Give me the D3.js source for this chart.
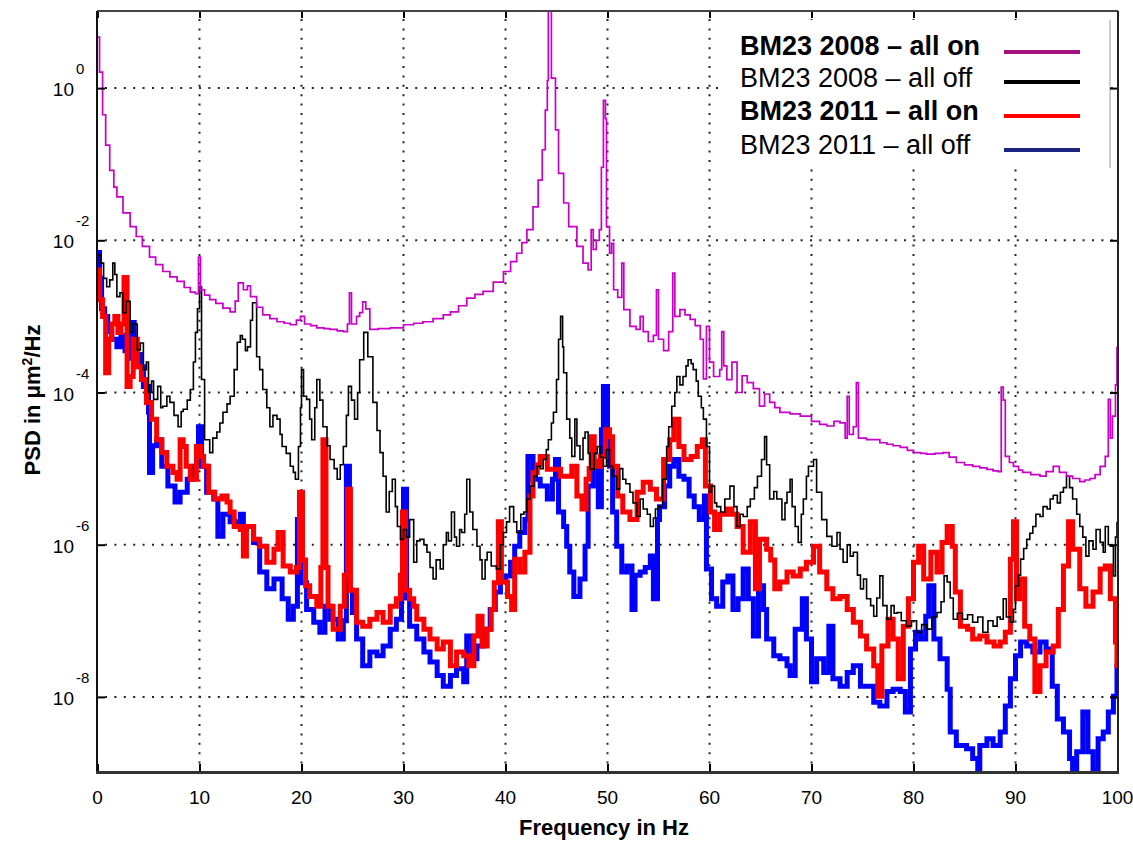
<!DOCTYPE html>
<html>
<head>
<meta charset="utf-8">
<script src="https://cdn.jsdelivr.net/npm/d3@7"></script>
<style>
    body { margin: 0; background: #fff; font-family: "Liberation Sans", Arial, sans-serif; }
    svg { display: block; }
</style>
</head>
<body>
<svg id="chart" width="1133" height="841"></svg>
<script>
// ---- data: [frequency in Hz, log10 of PSD in um^2/Hz] ----
const xTickValues = [0, 10, 20, 30, 40, 50, 60, 70, 80, 90, 100];
const yTickExponents = [0, -2, -4, -6, -8];
const legendLabels = ["BM23 2008 \u2013 all on", "BM23 2008 \u2013 all off", "BM23 2011 \u2013 all on", "BM23 2011 \u2013 all off"];

const on2008 = [[0,0.67],[0.2,0.21],[0.5,-0.35],[0.8,-0.75],[1.2,-1.08],[1.6,-1.3],[1.9,-1.43],[2.5,-1.64],[3.2,-1.82],[3.8,-1.95],[4.4,-2.08],[5.1,-2.22],[5.7,-2.32],[6.4,-2.41],[7.1,-2.48],[7.8,-2.54],[8.5,-2.62],[9.1,-2.68],[9.6,-2.7],[9.9,-2.22],[10.1,-2.65],[10.5,-2.72],[11.0,-2.78],[11.6,-2.83],[12.3,-2.89],[13.0,-2.94],[13.5,-2.8],[13.8,-2.56],[14.3,-2.65],[14.7,-2.6],[15.0,-2.74],[15.6,-2.88],[16.2,-2.98],[16.9,-3.03],[17.6,-3.07],[18.3,-3.09],[18.9,-3.11],[19.5,-3.05],[19.9,-3.0],[20.3,-3.1],[20.9,-3.12],[21.5,-3.15],[22.2,-3.16],[22.8,-3.17],[23.5,-3.19],[24.1,-3.2],[24.5,-3.1],[24.7,-2.69],[24.9,-3.1],[25.4,-3.0],[25.7,-2.95],[26.0,-2.81],[26.3,-2.9],[26.7,-3.17],[27.5,-3.16],[28.7,-3.15],[30.0,-3.11],[31.0,-3.09],[31.9,-3.07],[32.9,-3.03],[33.9,-2.98],[34.6,-2.94],[35.4,-2.86],[36.2,-2.76],[37.0,-2.71],[37.8,-2.67],[38.8,-2.55],[39.8,-2.41],[40.5,-2.28],[41.1,-2.17],[41.6,-2.03],[42.1,-1.86],[42.7,-1.56],[43.2,-1.21],[43.6,-0.81],[43.9,-0.29],[44.1,0.1],[44.2,1.3],[44.5,0.13],[44.9,-0.55],[45.2,-1.12],[45.7,-1.51],[46.2,-1.82],[47.0,-2.08],[47.6,-2.3],[48.1,-2.39],[48.4,-1.86],[48.6,-2.12],[48.9,-2.0],[49.2,-1.86],[49.4,-1.04],[49.6,-0.16],[49.8,-0.4],[49.9,-1.82],[50.2,-2.17],[50.4,-2.04],[50.6,-2.65],[51.0,-2.75],[51.4,-2.3],[51.6,-2.91],[52.2,-3.13],[52.8,-3.17],[53.2,-3.0],[53.5,-3.2],[54.0,-3.33],[54.5,-3.25],[54.8,-2.65],[55.0,-3.3],[55.5,-3.45],[56.0,-3.2],[56.4,-2.43],[56.6,-3.0],[57.1,-2.91],[57.6,-2.98],[58.1,-3.04],[58.6,-3.12],[59.1,-3.3],[59.4,-3.82],[59.7,-3.13],[60.0,-3.6],[60.4,-3.79],[61.0,-3.7],[61.2,-3.2],[61.4,-3.65],[61.7,-3.83],[62.2,-3.6],[62.7,-4.0],[63.2,-3.78],[63.7,-3.87],[64.3,-3.95],[64.9,-4.18],[65.4,-4.02],[65.9,-4.13],[66.4,-4.2],[66.9,-4.26],[67.9,-4.28],[68.9,-4.31],[70.0,-4.38],[70.8,-4.42],[71.5,-4.44],[72.2,-4.38],[72.8,-4.4],[73.3,-4.6],[73.5,-4.05],[73.7,-4.55],[74.1,-4.45],[74.4,-3.87],[74.6,-4.6],[75.4,-4.62],[76.0,-4.62],[76.7,-4.66],[77.4,-4.68],[78.0,-4.7],[78.7,-4.72],[79.4,-4.76],[80.0,-4.79],[80.7,-4.8],[81.3,-4.81],[82.1,-4.8],[82.9,-4.79],[83.5,-4.85],[84.2,-4.92],[85.0,-4.95],[85.8,-4.97],[86.5,-4.99],[87.2,-5.01],[87.8,-5.03],[88.3,-5.04],[88.6,-3.93],[88.8,-4.1],[89.0,-4.84],[89.4,-4.92],[89.8,-4.97],[90.3,-5.02],[90.7,-5.05],[91.5,-5.08],[92.4,-5.1],[93.0,-5.04],[93.7,-4.97],[94.3,-5.05],[95.0,-5.1],[95.6,-5.13],[96.3,-5.17],[96.8,-5.15],[97.3,-5.13],[97.8,-5.08],[98.3,-4.97],[98.8,-4.84],[99.1,-4.09],[99.3,-4.6],[99.5,-4.31],[99.8,-3.9],[99.95,-3.41],[100,-3.41]];

const off2008 = [[0,-2.19],[0.3,-2.3],[0.6,-2.5],[0.9,-2.61],[1.2,-2.52],[1.5,-2.3],[1.7,-2.45],[1.9,-2.74],[2.2,-2.69],[2.5,-2.95],[2.8,-2.8],[3.2,-3.21],[3.5,-3.1],[3.9,-3.44],[4.2,-3.35],[4.5,-3.7],[4.8,-3.6],[5.0,-4.0],[5.3,-3.85],[5.5,-4.09],[5.9,-3.92],[6.2,-4.2],[6.4,-4.18],[6.8,-4.05],[7.1,-4.13],[7.5,-4.3],[7.9,-4.45],[8.2,-4.25],[8.4,-4.22],[8.8,-4.1],[9.1,-3.96],[9.4,-3.6],[9.6,-3.21],[9.8,-2.9],[10.0,-2.61],[10.2,-3.83],[10.5,-4.62],[11.0,-4.79],[11.3,-4.6],[11.7,-4.52],[12.0,-4.4],[12.3,-4.26],[12.7,-4.15],[13.0,-4.05],[13.4,-3.7],[13.7,-3.34],[14.0,-3.25],[14.2,-3.3],[14.5,-3.45],[14.7,-3.4],[15.0,-3.05],[15.2,-2.82],[15.6,-3.53],[15.9,-3.7],[16.2,-3.96],[16.6,-4.2],[16.9,-4.45],[17.2,-4.3],[17.6,-4.35],[17.9,-4.55],[18.1,-4.71],[18.5,-4.8],[18.9,-4.97],[19.2,-5.05],[19.4,-5.14],[19.7,-4.71],[19.9,-4.2],[20.0,-3.7],[20.2,-4.05],[20.5,-4.09],[20.8,-4.35],[21.0,-4.62],[21.3,-4.2],[21.5,-3.83],[21.8,-4.1],[22.1,-4.45],[22.5,-4.7],[22.8,-4.88],[23.2,-5.0],[23.5,-5.14],[23.8,-4.95],[24.1,-4.71],[24.4,-4.3],[24.6,-3.92],[24.9,-4.1],[25.2,-4.35],[25.5,-4.0],[25.7,-3.57],[26.1,-3.21],[26.5,-3.53],[27.0,-4.13],[27.4,-4.5],[27.7,-4.79],[28.0,-5.1],[28.3,-5.57],[28.6,-5.3],[28.9,-5.14],[29.2,-5.5],[29.4,-5.76],[29.7,-5.93],[30.0,-5.8],[30.3,-5.9],[30.6,-5.67],[31.0,-6.23],[31.3,-5.95],[31.6,-5.93],[32.0,-6.0],[32.3,-6.1],[32.6,-6.3],[32.9,-6.45],[33.2,-6.2],[33.6,-6.32],[33.9,-6.0],[34.2,-5.84],[34.4,-5.95],[34.7,-5.57],[35.0,-5.9],[35.2,-6.02],[35.5,-5.8],[35.7,-5.84],[36.0,-5.6],[36.2,-5.14],[36.5,-5.57],[36.8,-5.8],[37.2,-6.02],[37.5,-6.2],[37.7,-6.45],[38.0,-6.2],[38.2,-6.1],[38.6,-6.28],[39.1,-6.32],[39.5,-6.0],[39.8,-5.84],[40.1,-5.7],[40.4,-5.5],[40.8,-5.7],[41.1,-5.84],[41.5,-5.6],[41.8,-5.57],[42.1,-5.4],[42.4,-5.23],[42.8,-5.1],[43.1,-4.97],[43.4,-5.0],[43.7,-4.88],[44.0,-4.75],[44.2,-4.62],[44.5,-4.4],[44.7,-4.26],[45.0,-3.83],[45.2,-3.3],[45.4,-3.0],[45.6,-3.4],[45.7,-3.74],[46.0,-4.35],[46.3,-4.6],[46.5,-4.84],[46.8,-4.35],[47.0,-4.7],[47.3,-4.88],[47.6,-4.6],[47.8,-4.52],[48.1,-4.8],[48.3,-5.01],[48.7,-4.8],[49.0,-4.71],[49.3,-4.85],[49.6,-4.97],[49.9,-4.75],[50.2,-4.97],[50.5,-5.1],[50.9,-5.27],[51.2,-5.0],[51.5,-5.14],[51.8,-5.2],[52.2,-5.31],[52.5,-5.45],[52.9,-5.63],[53.2,-5.4],[53.5,-5.53],[53.9,-5.6],[54.2,-5.76],[54.5,-5.65],[54.7,-5.53],[55.0,-5.5],[55.4,-5.14],[55.8,-4.71],[56.0,-4.45],[56.3,-4.18],[56.6,-4.0],[56.8,-3.79],[57.1,-3.9],[57.4,-3.79],[57.7,-3.65],[57.9,-3.57],[58.2,-3.62],[58.4,-3.7],[58.7,-3.85],[58.9,-4.05],[59.2,-4.2],[59.4,-4.35],[59.7,-4.71],[60.0,-5.31],[60.2,-5.23],[60.5,-5.45],[60.7,-5.5],[61.1,-5.57],[61.5,-5.4],[62.0,-5.23],[62.4,-5.5],[62.7,-5.76],[63.0,-5.6],[63.3,-5.63],[63.7,-5.5],[64.0,-5.4],[64.4,-5.25],[64.7,-5.1],[65.1,-4.88],[65.4,-4.58],[65.6,-4.95],[65.9,-5.4],[66.3,-5.3],[66.6,-5.4],[67.1,-5.67],[67.4,-5.45],[67.6,-5.31],[67.9,-5.14],[68.1,-5.5],[68.4,-5.76],[68.7,-5.97],[69.0,-5.6],[69.2,-5.4],[69.5,-5.1],[69.7,-4.97],[70.2,-4.88],[70.5,-5.31],[71.0,-5.67],[71.5,-5.89],[72.0,-6.02],[72.5,-5.84],[72.8,-6.06],[73.1,-6.23],[73.5,-6.0],[73.8,-6.15],[74.1,-6.1],[74.5,-6.4],[74.8,-6.58],[75.1,-6.45],[75.4,-6.71],[75.8,-6.8],[76.1,-6.94],[76.4,-6.7],[76.7,-6.41],[77.0,-6.8],[77.4,-6.98],[77.8,-6.8],[78.1,-6.9],[78.4,-6.89],[78.8,-7.0],[79.3,-7.07],[79.8,-7.0],[80.3,-7.15],[80.8,-7.05],[81.3,-7.11],[81.8,-6.95],[82.3,-6.89],[82.7,-6.75],[83.0,-6.41],[83.3,-6.49],[83.6,-6.7],[83.9,-6.98],[84.3,-6.9],[84.8,-6.98],[85.3,-6.92],[85.8,-7.02],[86.3,-6.95],[86.8,-7.15],[87.3,-7.0],[87.8,-7.07],[88.2,-6.95],[88.5,-6.98],[88.8,-6.71],[89.1,-6.95],[89.5,-7.02],[89.8,-6.85],[90.0,-6.54],[90.3,-6.4],[90.5,-6.19],[90.8,-6.05],[91.1,-5.93],[91.4,-5.85],[91.7,-5.76],[92.0,-5.6],[92.4,-5.63],[92.7,-5.5],[93.1,-5.53],[93.4,-5.4],[93.7,-5.35],[94.1,-5.45],[94.4,-5.31],[94.7,-5.25],[95.0,-5.1],[95.3,-5.25],[95.6,-5.4],[96.0,-5.6],[96.3,-5.76],[96.6,-5.9],[96.9,-6.15],[97.2,-5.95],[97.6,-6.06],[97.9,-5.8],[98.3,-5.97],[98.6,-6.1],[98.8,-5.76],[99.1,-6.0],[99.3,-6.02],[99.6,-6.41],[99.8,-5.9],[99.95,-5.71],[100,-5.71]];

const on2011 = [[0,-2.39],[0.2,-2.78],[0.5,-3.0],[0.8,-3.74],[1.1,-3.3],[1.4,-3.1],[1.7,-3.0],[2.0,-3.21],[2.3,-3.1],[2.6,-2.49],[2.9,-3.92],[3.2,-3.79],[3.5,-3.3],[3.9,-3.66],[4.3,-3.83],[4.8,-4.13],[5.3,-4.35],[5.8,-4.62],[6.3,-4.79],[6.8,-4.97],[7.4,-5.05],[7.8,-5.14],[8.1,-4.62],[8.4,-4.71],[8.7,-4.97],[9.1,-5.14],[9.7,-4.71],[10.1,-4.84],[10.4,-4.97],[10.9,-5.31],[11.5,-5.4],[12.2,-5.36],[12.7,-5.44],[13.0,-5.57],[13.4,-5.76],[14.0,-5.8],[14.3,-6.15],[14.6,-5.76],[15.3,-5.93],[15.9,-6.02],[16.6,-6.23],[17.3,-6.06],[17.7,-5.84],[18.2,-6.28],[18.9,-6.36],[19.5,-6.3],[19.8,-5.31],[20.1,-6.2],[20.4,-6.54],[20.8,-6.68],[21.5,-6.81],[21.9,-6.3],[22.1,-4.62],[22.4,-6.3],[22.6,-6.81],[23.1,-7.11],[23.8,-6.81],[24.2,-6.4],[24.5,-5.27],[24.8,-6.6],[25.4,-7.02],[26.0,-7.07],[26.7,-6.98],[27.4,-6.89],[28.0,-7.02],[28.7,-6.81],[29.3,-6.71],[29.7,-6.4],[29.9,-5.57],[30.2,-6.6],[30.6,-6.71],[31.0,-6.81],[31.3,-6.98],[32.0,-7.11],[32.6,-7.24],[33.3,-7.37],[33.9,-7.28],[34.6,-7.59],[35.2,-7.41],[35.9,-7.46],[36.4,-7.59],[36.9,-7.2],[37.3,-6.94],[37.7,-7.33],[38.2,-7.11],[38.6,-6.85],[38.9,-6.5],[39.3,-5.7],[39.6,-6.49],[40.2,-6.68],[40.6,-6.85],[40.9,-6.19],[41.4,-6.36],[41.9,-6.1],[42.4,-5.36],[42.7,-5.05],[43.1,-4.95],[43.4,-4.84],[44.1,-5.01],[44.7,-5.01],[45.4,-5.1],[46.0,-5.1],[46.5,-4.97],[47.0,-5.36],[47.5,-5.53],[47.9,-5.14],[48.2,-5.0],[48.4,-4.58],[48.7,-4.9],[48.9,-4.97],[49.3,-4.84],[49.8,-4.49],[50.2,-4.58],[50.5,-4.97],[51.0,-5.36],[51.5,-5.57],[52.2,-5.67],[52.9,-5.31],[53.5,-5.18],[54.2,-5.27],[54.8,-5.4],[55.5,-4.88],[56.1,-4.62],[56.5,-4.35],[57.0,-4.71],[57.5,-4.88],[58.2,-4.84],[58.8,-4.71],[59.3,-4.62],[59.6,-5.23],[60.1,-5.57],[60.5,-5.8],[61.0,-5.6],[61.7,-5.53],[62.2,-5.6],[62.7,-5.76],[63.3,-6.1],[64.0,-5.7],[64.5,-6.58],[64.9,-5.93],[65.6,-6.06],[66.0,-6.2],[66.4,-6.58],[66.9,-6.49],[67.6,-6.36],[68.2,-6.41],[68.9,-6.32],[69.5,-6.23],[70.2,-6.02],[70.8,-6.36],[71.5,-6.58],[72.1,-6.71],[72.8,-6.68],[73.5,-6.85],[74.1,-7.02],[74.8,-7.2],[75.4,-7.37],[76.1,-7.59],[76.5,-7.99],[76.9,-7.33],[77.5,-6.98],[78.0,-7.24],[78.5,-7.76],[79.0,-7.07],[79.5,-6.71],[80.0,-6.23],[80.5,-6.02],[81.0,-6.45],[81.7,-6.1],[82.3,-6.36],[82.8,-5.97],[83.3,-5.76],[83.8,-6.02],[84.1,-6.62],[84.6,-7.07],[85.3,-7.11],[85.8,-7.24],[86.5,-7.2],[87.2,-7.28],[87.9,-7.33],[88.5,-7.28],[89.0,-7.15],[89.5,-6.19],[89.8,-5.7],[90.1,-6.71],[90.4,-6.45],[90.9,-7.07],[91.4,-7.24],[91.9,-7.93],[92.4,-7.59],[93.0,-7.41],[93.7,-7.33],[94.2,-6.85],[94.7,-6.28],[95.2,-5.7],[95.6,-6.06],[96.3,-6.58],[96.9,-6.81],[97.6,-6.62],[98.3,-6.32],[98.8,-6.28],[99.3,-6.71],[99.8,-7.28],[99.95,-7.59],[100,-7.59]];

const off2011 = [[0,-2.16],[0.2,-2.5],[0.4,-2.9],[0.7,-3.0],[1.0,-3.2],[1.4,-3.3],[1.9,-3.4],[2.3,-3.25],[2.7,-3.45],[3.0,-3.55],[3.3,-3.08],[3.6,-3.5],[4.2,-3.66],[4.5,-3.92],[5.0,-4.26],[5.1,-5.05],[5.4,-4.7],[5.8,-4.62],[6.3,-4.97],[6.9,-5.23],[7.6,-5.44],[8.1,-5.31],[8.8,-5.14],[9.4,-4.97],[9.9,-4.45],[10.2,-4.97],[10.7,-5.31],[11.4,-5.4],[11.8,-5.89],[12.3,-5.6],[13.0,-5.7],[13.7,-5.76],[14.0,-5.6],[14.3,-5.8],[14.6,-5.76],[15.3,-5.97],[15.9,-6.36],[16.6,-6.58],[17.3,-6.45],[18.1,-6.71],[18.7,-6.98],[19.2,-6.81],[19.6,-5.67],[19.9,-6.5],[20.5,-6.85],[21.2,-7.02],[21.8,-7.15],[22.3,-6.81],[22.8,-6.98],[23.6,-7.24],[24.1,-7.0],[24.4,-4.97],[24.7,-6.6],[25.0,-6.89],[25.4,-7.24],[26.0,-7.59],[26.7,-7.41],[27.4,-7.46],[28.0,-7.33],[28.7,-7.11],[29.3,-6.98],[29.8,-6.5],[30.0,-5.27],[30.3,-6.7],[30.6,-7.07],[31.3,-7.24],[32.0,-7.41],[32.6,-7.54],[33.3,-7.72],[33.9,-7.86],[34.6,-7.72],[35.2,-7.63],[35.9,-7.8],[36.2,-7.2],[36.7,-7.5],[37.2,-7.33],[37.8,-7.11],[38.5,-6.85],[39.0,-6.62],[39.5,-6.45],[40.0,-6.41],[40.5,-6.23],[40.9,-6.02],[41.4,-5.84],[41.9,-5.67],[42.2,-4.84],[42.7,-5.14],[43.4,-5.23],[44.1,-5.4],[44.6,-5.14],[44.9,-4.88],[45.2,-5.57],[45.7,-5.76],[46.0,-6.02],[46.3,-6.36],[46.7,-6.68],[47.3,-6.45],[47.8,-6.02],[48.1,-5.23],[48.6,-4.97],[49.1,-5.5],[49.4,-4.49],[49.6,-3.92],[50.0,-4.58],[50.2,-4.97],[50.5,-5.57],[50.9,-6.02],[51.4,-6.36],[51.9,-6.28],[52.4,-6.85],[52.7,-6.4],[53.2,-6.36],[53.7,-6.3],[54.2,-6.15],[54.5,-6.71],[54.9,-5.67],[55.1,-5.5],[55.6,-5.23],[56.1,-4.97],[56.5,-4.88],[57.0,-5.1],[57.5,-5.14],[58.0,-5.36],[58.5,-5.5],[59.0,-5.67],[59.5,-5.36],[59.7,-6.32],[60.2,-6.71],[60.7,-6.81],[61.3,-6.49],[61.8,-6.41],[62.3,-6.85],[62.8,-6.71],[63.3,-6.32],[63.8,-6.71],[64.3,-7.2],[64.8,-6.54],[65.3,-6.85],[65.6,-7.24],[66.3,-7.46],[66.9,-7.5],[67.6,-7.59],[67.9,-7.72],[68.4,-7.11],[69.1,-6.71],[69.5,-7.24],[70.0,-7.8],[70.5,-7.5],[71.2,-7.68],[71.7,-7.07],[72.1,-7.76],[72.8,-7.86],[73.5,-7.68],[74.1,-7.59],[74.8,-7.86],[75.4,-7.86],[76.1,-8.07],[76.7,-8.12],[77.4,-7.93],[78.0,-7.9],[78.7,-7.93],[79.2,-8.2],[79.7,-7.37],[80.2,-7.15],[80.7,-7.24],[81.2,-6.94],[81.5,-6.54],[82.0,-7.24],[82.6,-7.5],[83.3,-7.9],[83.6,-8.46],[84.2,-8.64],[85.2,-8.68],[85.8,-8.81],[86.3,-8.95],[86.5,-8.64],[87.2,-8.55],[87.8,-8.64],[88.5,-8.46],[89.0,-8.12],[89.5,-7.76],[90.0,-7.46],[90.5,-7.28],[91.1,-7.33],[91.7,-7.41],[92.4,-7.28],[93.0,-7.37],[93.6,-7.86],[94.1,-8.29],[94.7,-8.46],[95.3,-8.81],[95.6,-9.1],[96.0,-8.72],[96.6,-8.2],[97.1,-8.72],[97.6,-8.95],[98.1,-8.55],[98.6,-8.46],[99.1,-8.2],[99.6,-7.99],[99.95,-7.59],[100,-7.59]];

// drawing order: the 2011 traces sit under the 2008 ones
const series = [
    {data: off2011, color: "#0000ff", width: 5},
    {data: on2011, color: "#ff0000", width: 5},
    {data: off2008, color: "#000000", width: 1.6},
    {data: on2008, color: "#c800c8", width: 1.7}
];
const legendColors = ["#a3137f", "#000000", "#ff0000", "#1b2580"];

const svg = d3.select("#chart");
const plotLeft = 97, plotRight = 1118, plotTop = 11, plotBottom = 772;

const x = d3.scaleLinear().domain([0, 100]).range([97.5, 1117.5]);
const y = d3.scaleLog().domain([1e-9, 10]).range([773, 12]);

svg.append("defs").append("clipPath").attr("id", "plotArea")
    .append("rect").attr("x", plotLeft).attr("y", plotTop)
    .attr("width", plotRight - plotLeft).attr("height", plotBottom - plotTop);

// dotted grid
const grid = svg.append("g").attr("stroke", "#222").attr("stroke-width", 2).attr("stroke-dasharray", "2,7.4");
grid.selectAll(".vg").data(xTickValues.slice(1, -1)).enter().append("line")
    .attr("x1", d => x(d)).attr("x2", d => x(d)).attr("y1", plotTop + 8).attr("y2", plotBottom);
grid.selectAll(".hg").data(yTickExponents).enter().append("line")
    .attr("x1", plotLeft + 8).attr("x2", plotRight)
    .attr("y1", d => y(Math.pow(10, d))).attr("y2", d => y(Math.pow(10, d)));

// the four spectra
const line = d3.line()
    .x(d => x(d[0]))
    .y(d => y(Math.pow(10, d[1])))
    .curve(d3.curveStepAfter);

svg.append("g").attr("clip-path", "url(#plotArea)")
    .selectAll("path").data(series).enter().append("path")
    .attr("d", d => line(d.data))
    .attr("fill", "none")
    .attr("stroke", d => d.color)
    .attr("stroke-width", d => d.width)
    .attr("stroke-linejoin", "miter");

// legend box
const legend = svg.append("g");
legend.append("rect").attr("x", 718).attr("y", 20).attr("width", 392).attr("height", 148).attr("fill", "#fff");
legend.append("line").attr("x1", 1110).attr("x2", 1110).attr("y1", 20).attr("y2", 168)
    .attr("stroke", "#999").attr("stroke-width", 1);
const rowY = [52, 82, 116, 150];
const rowBase = [55, 87, 120, 154];
legend.selectAll("text").data(legendLabels).enter().append("text")
    .attr("x", 740).attr("y", (d, i) => rowBase[i])
    .attr("font-size", 27)
    .attr("font-weight", (d, i) => i % 2 === 0 ? "bold" : "normal")
    .attr("fill", "#000")
    .text(d => d);
legend.selectAll(".key").data(legendColors).enter().append("line")
    .attr("x1", 1004).attr("x2", 1080)
    .attr("y1", (d, i) => rowY[i]).attr("y2", (d, i) => rowY[i])
    .attr("stroke", d => d).attr("stroke-width", 4);

// frame and ticks
const axisBottom = d3.axisBottom(x).tickValues(xTickValues).tickSizeInner(-8).tickSizeOuter(0).tickFormat("");
const axisTop = d3.axisTop(x).tickValues(xTickValues).tickSizeInner(-7).tickSizeOuter(0).tickFormat("");
const axisLeft = d3.axisLeft(y).tickValues(yTickExponents.map(e => Math.pow(10, e))).tickSizeInner(-8).tickSizeOuter(0).tickFormat("");
const axisRight = d3.axisRight(y).tickValues(yTickExponents.map(e => Math.pow(10, e))).tickSizeInner(-8).tickSizeOuter(0).tickFormat("");

function styleAxis(g) {
    g.select(".domain").remove();
    g.selectAll(".tick line").attr("stroke", "#000").attr("stroke-width", 2);
}
svg.append("g").attr("transform", `translate(0,${plotBottom})`).call(axisBottom).call(styleAxis);
svg.append("g").attr("transform", `translate(0,${plotTop})`).call(axisTop).call(styleAxis);
svg.append("g").attr("transform", `translate(${plotLeft},0)`).call(axisLeft).call(styleAxis);
svg.append("g").attr("transform", `translate(${plotRight},0)`).call(axisRight).call(styleAxis);

svg.append("line").attr("x1", plotLeft).attr("x2", plotRight).attr("y1", plotTop).attr("y2", plotTop)
    .attr("stroke", "#444").attr("stroke-width", 2);
svg.append("line").attr("x1", plotLeft).attr("x2", plotLeft).attr("y1", plotTop).attr("y2", plotBottom)
    .attr("stroke", "#111").attr("stroke-width", 2);
svg.append("line").attr("x1", plotRight).attr("x2", plotRight).attr("y1", plotTop).attr("y2", plotBottom)
    .attr("stroke", "#222").attr("stroke-width", 2);
svg.append("line").attr("x1", plotLeft - 1).attr("x2", plotRight + 1).attr("y1", plotBottom + 0.5).attr("y2", plotBottom + 0.5)
    .attr("stroke", "#333").attr("stroke-width", 3);

// tick labels
svg.append("g").selectAll("text").data(xTickValues).enter().append("text")
    .attr("x", d => x(d)).attr("y", 804)
    .attr("text-anchor", "middle").attr("font-size", 19).attr("fill", "#000")
    .text(d => d);

const yLabels = svg.append("g").selectAll("g").data(yTickExponents).enter().append("g")
    .attr("transform", d => `translate(0,${y(Math.pow(10, d))})`);
yLabels.append("text").attr("x", 74).attr("y", 8)
    .attr("text-anchor", "end").attr("font-size", 19).attr("fill", "#000").text("10");
yLabels.append("text").attr("x", 76).attr("y", -14)
    .attr("font-size", 15).attr("fill", "#000").text(d => String(d));

// axis titles
svg.append("text").attr("x", 604).attr("y", 835)
    .attr("text-anchor", "middle").attr("font-size", 22).attr("font-weight", "bold")
    .text("Frequency in Hz");

const yTitle = svg.append("text").attr("transform", "translate(40,400) rotate(-90)")
    .attr("text-anchor", "middle").attr("font-size", 22).attr("font-weight", "bold");
yTitle.append("tspan").text("PSD in \u03bcm");
yTitle.append("tspan").attr("font-size", 14).attr("dy", -8).text("2");
yTitle.append("tspan").attr("dy", 8).text("/Hz");
</script>
</body>
</html>
